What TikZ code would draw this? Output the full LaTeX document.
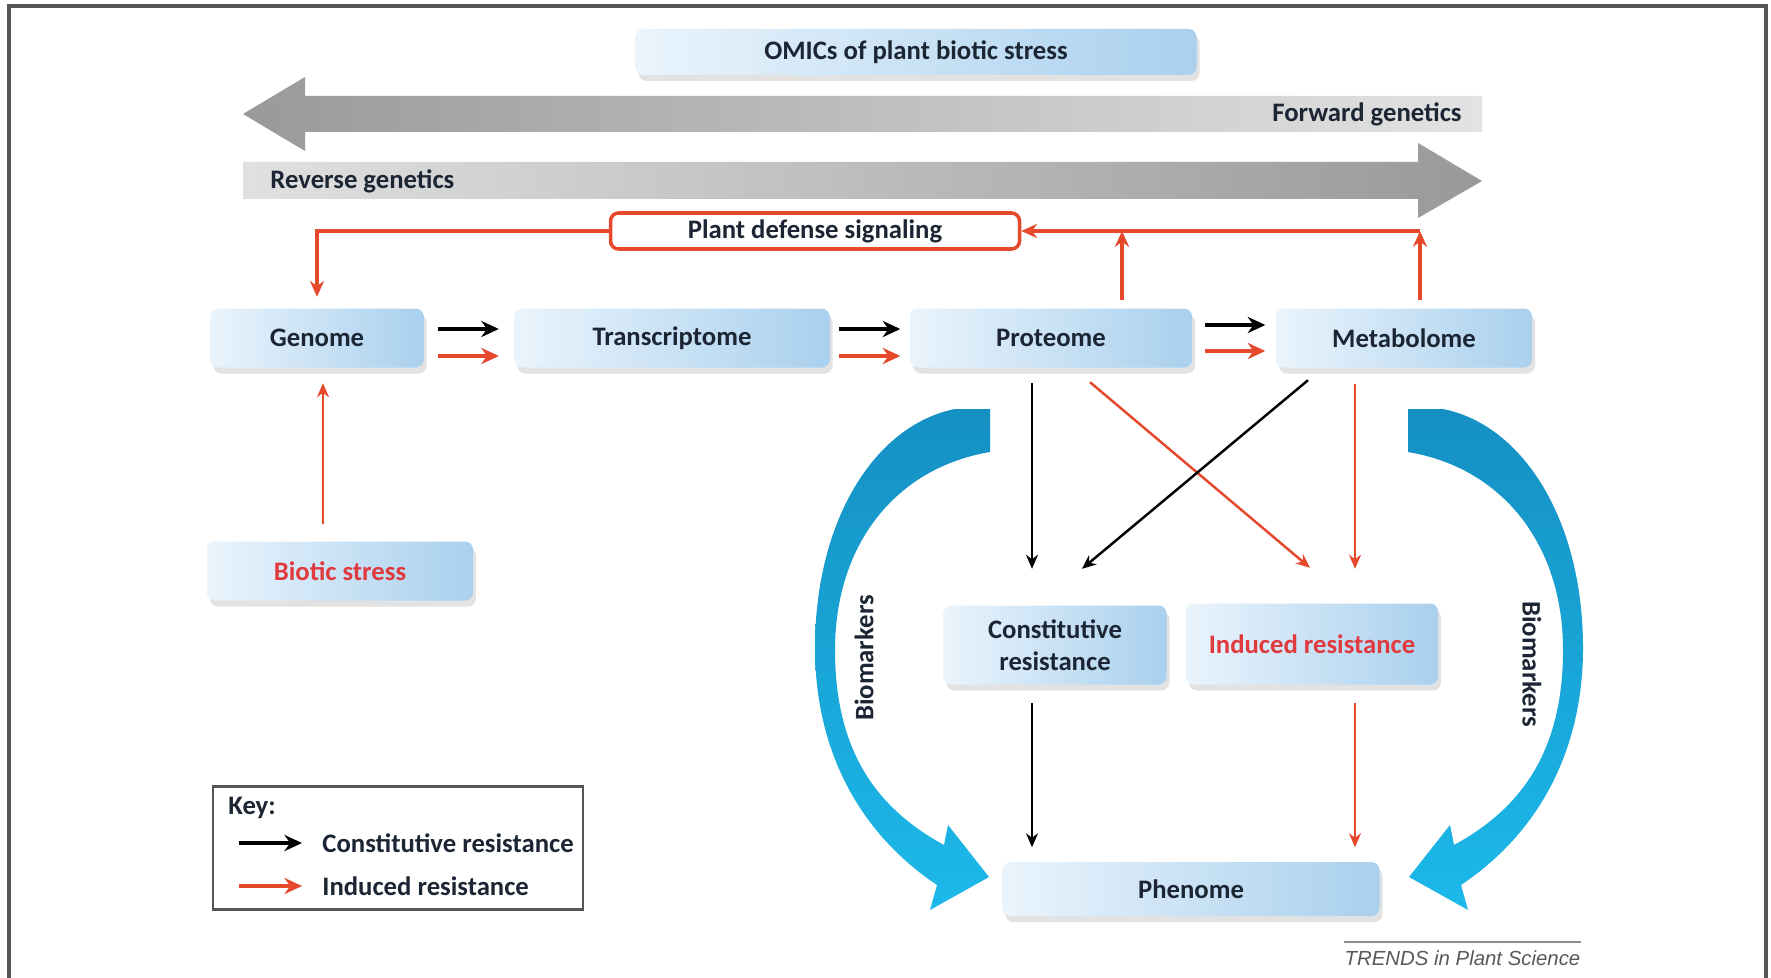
\documentclass[tikz,border=0pt]{standalone}
\usepackage{fontspec}
\setmainfont{Carlito}
\newfontfamily\trendsfont{Liberation Sans}
\usetikzlibrary{arrows.meta,shadows,calc}
\definecolor{navy}{HTML}{1C2533}
\definecolor{redar}{HTML}{E5482B}
\definecolor{redtx}{HTML}{E0393E}
\definecolor{boxl}{HTML}{EAF4FC}
\definecolor{boxr}{HTML}{A9D0EE}
\definecolor{blueA}{HTML}{1590C3}
\definecolor{blueB}{HTML}{1CB9EA}
\definecolor{framec}{HTML}{555555}
\begin{document}
\begin{tikzpicture}[x=0.1mm,y=-0.1mm,
  every node/.style={font=\fontsize{7.6}{9}\selectfont\bfseries, text=navy},
  omic/.style={rectangle, rounded corners=0.8mm, left color=boxl, right color=boxr,
    drop shadow={shadow xshift=0.3mm,shadow yshift=-0.6mm,fill=black!22},
    inner sep=0pt, align=center},
  kb/.style={line width=1.1pt, -{Stealth[length=5pt,width=4.6pt]}},
  rb/.style={kb, draw=redar},
  kt/.style={line width=0.7pt, -{Stealth[length=4pt,width=3.4pt]}},
  rt/.style={kt, draw=redar},
  sig/.style={draw=redar, line width=0.9pt, -{Stealth[length=4.5pt,width=4pt]}},
]
\useasboundingbox (0,0) rectangle (1771,978);
\fill[white] (0,0) rectangle (1771,978);
\draw[framec, line width=1pt] (9,978) -- (9,6) -- (1766,6) -- (1766,978);

% title
\node[omic, minimum width=56.1mm, minimum height=4.6mm] (omics) at (916,52) {OMICs of plant biotic stress};

% big gray arrows
\shade[left color=black!40, right color=black!11]
  (243,114) -- (305,77) -- (305,96) -- (1482,96) -- (1482,132) -- (305,132) -- (305,151) -- cycle;
\shade[left color=black!12, right color=black!40]
  (243,162) -- (1418,162) -- (1418,143) -- (1482,181) -- (1418,218) -- (1418,199) -- (243,199) -- cycle;
\node[anchor=east] (fwd) at (1474,114) {Forward genetics};
\node[anchor=west] (rev) at (258,181) {Reverse genetics};

% omics boxes
\node[omic, minimum width=21.3mm, minimum height=5.9mm] (genome) at (317,338) {Genome};
\node[omic, minimum width=31.5mm, minimum height=5.9mm] (trans) at (672,338) {Transcriptome};
\node[omic, minimum width=28.2mm, minimum height=5.9mm] (prot) at (1051,338) {Proteome};
\node[omic, minimum width=25.6mm, minimum height=5.9mm] (meta) at (1404,338) {Metabolome};
\node[omic, minimum width=26.6mm, minimum height=5.9mm, text=redtx] (biotic) at (340,571) {Biotic stress};
\node[omic, minimum width=22.3mm, minimum height=7.9mm] (const) at (1055,645) {Constitutive\\resistance};
\node[omic, minimum width=25.2mm, minimum height=8.1mm, text=redtx] (induced) at (1312,644) {Induced resistance};
\node[omic, minimum width=37.7mm, minimum height=5.4mm] (phen) at (1191,889) {Phenome};

% plant defense signaling
\node[draw=redar, line width=1pt, fill=white, rounded corners=0.8mm, minimum width=40.9mm,
  minimum height=3.6mm, inner sep=0pt] (pds) at (815,231) {Plant defense signaling};
\coordinate (sigp) at (1122,231);
\coordinate (sigm) at (1420,231);
\draw[sig] (pds.west) -| ($(genome.north)+(0,-11)$);
\draw[sig] ($(prot.north)+(71,-8)$) -- (sigp);
\draw[sig] ($(meta.north)+(16,-8)$) -- (sigm);
\draw[sig] (sigm) -- (pds.east);

% horizontal pairs
\draw[kb] ($(genome.east)+(14,-9)$) -- ($(trans.west)+(-15,-9)$);
\draw[rb] ($(genome.east)+(14,18)$) -- ($(trans.west)+(-15,18)$);
\draw[kb] ($(trans.east)+(9,-9)$) -- ($(prot.west)+(-9,-9)$);
\draw[rb] ($(trans.east)+(9,18)$) -- ($(prot.west)+(-9,18)$);
\draw[kb] ($(prot.east)+(12,-13)$) -- ($(meta.west)+(-10,-13)$);
\draw[rb] ($(prot.east)+(12,13)$) -- ($(meta.west)+(-10,13)$);

% biotic stress -> genome
\draw[rt] ($(biotic.north)+(-17,-17)$) -- ($(genome.south)+(6,15)$);

% to resistances
\draw[kt] ($(prot.south)+(-19,15)$) -- ($(const.north)+(-23,-36)$);
\draw[rt] ($(prot.south)+(39,14)$) -- ($(induced.north)+(-2,-35)$);
\draw[kt] ($(meta.south)+(-96,12)$) -- ($(const.north)+(27,-36)$);
\draw[rt] ($(meta.south)+(-49,16)$) -- ($(induced.north)+(43,-34)$);
\draw[kt] ($(const.south)+(-23,18)$) -- ($(phen.north)+(-159,-14)$);
\draw[rt] ($(induced.south)+(43,18)$) -- ($(phen.north)+(164,-14)$);

% biomarker arrows
\shade[top color=blueA, bottom color=blueB]
  (955,409) -- (990,409) -- (990,452)
  .. controls (895,468) and (835,545) .. (835,650)
  .. controls (835,755) and (880,810) .. (944,845)
  -- (948,825) -- (989,877) -- (930,910) -- (937,885)
  .. controls (855,830) and (815,745) .. (815,648)
  .. controls (815,520) and (875,425) .. (955,409) -- cycle;
\shade[top color=blueA, bottom color=blueB]
  (1443,409) -- (1408,409) -- (1408,452)
  .. controls (1503,468) and (1563,545) .. (1563,650)
  .. controls (1563,755) and (1518,810) .. (1454,845)
  -- (1450,825) -- (1409,877) -- (1468,910) -- (1461,885)
  .. controls (1543,830) and (1583,745) .. (1583,648)
  .. controls (1583,520) and (1523,425) .. (1443,409) -- cycle;
\node[rotate=90] (bmL) at (864,658) {Biomarkers};
\node[rotate=-90] (bmR) at (1532,664) {Biomarkers};

% key
\node[draw=framec, line width=0.7pt, minimum width=37mm, minimum height=12.3mm, inner sep=0pt] (key) at (398,848) {};
\node[anchor=west] (keyt) at (216,808) {Key:};
\coordinate (k1a) at (239,843); \coordinate (k1b) at (302,843);
\coordinate (k2a) at (239,886); \coordinate (k2b) at (302,886);
\draw[kb] (k1a) -- (k1b);
\draw[rb] (k2a) -- (k2b);
\node[anchor=west] (k1) at (310,843) {Constitutive resistance};
\node[anchor=west] (k2) at (310,886) {Induced resistance};

% credit
\node[font=\trendsfont\itshape\fontsize{5.8}{7}\selectfont, text=black!65, anchor=west, inner sep=0pt] (trends) at (1344,958) {TRENDS in Plant Science};
\draw[black!45, line width=0.4pt] ($(trends.north west)+(0,-8)$) -- ($(trends.north east)+(0,-8)$);
\end{tikzpicture}
\end{document}
